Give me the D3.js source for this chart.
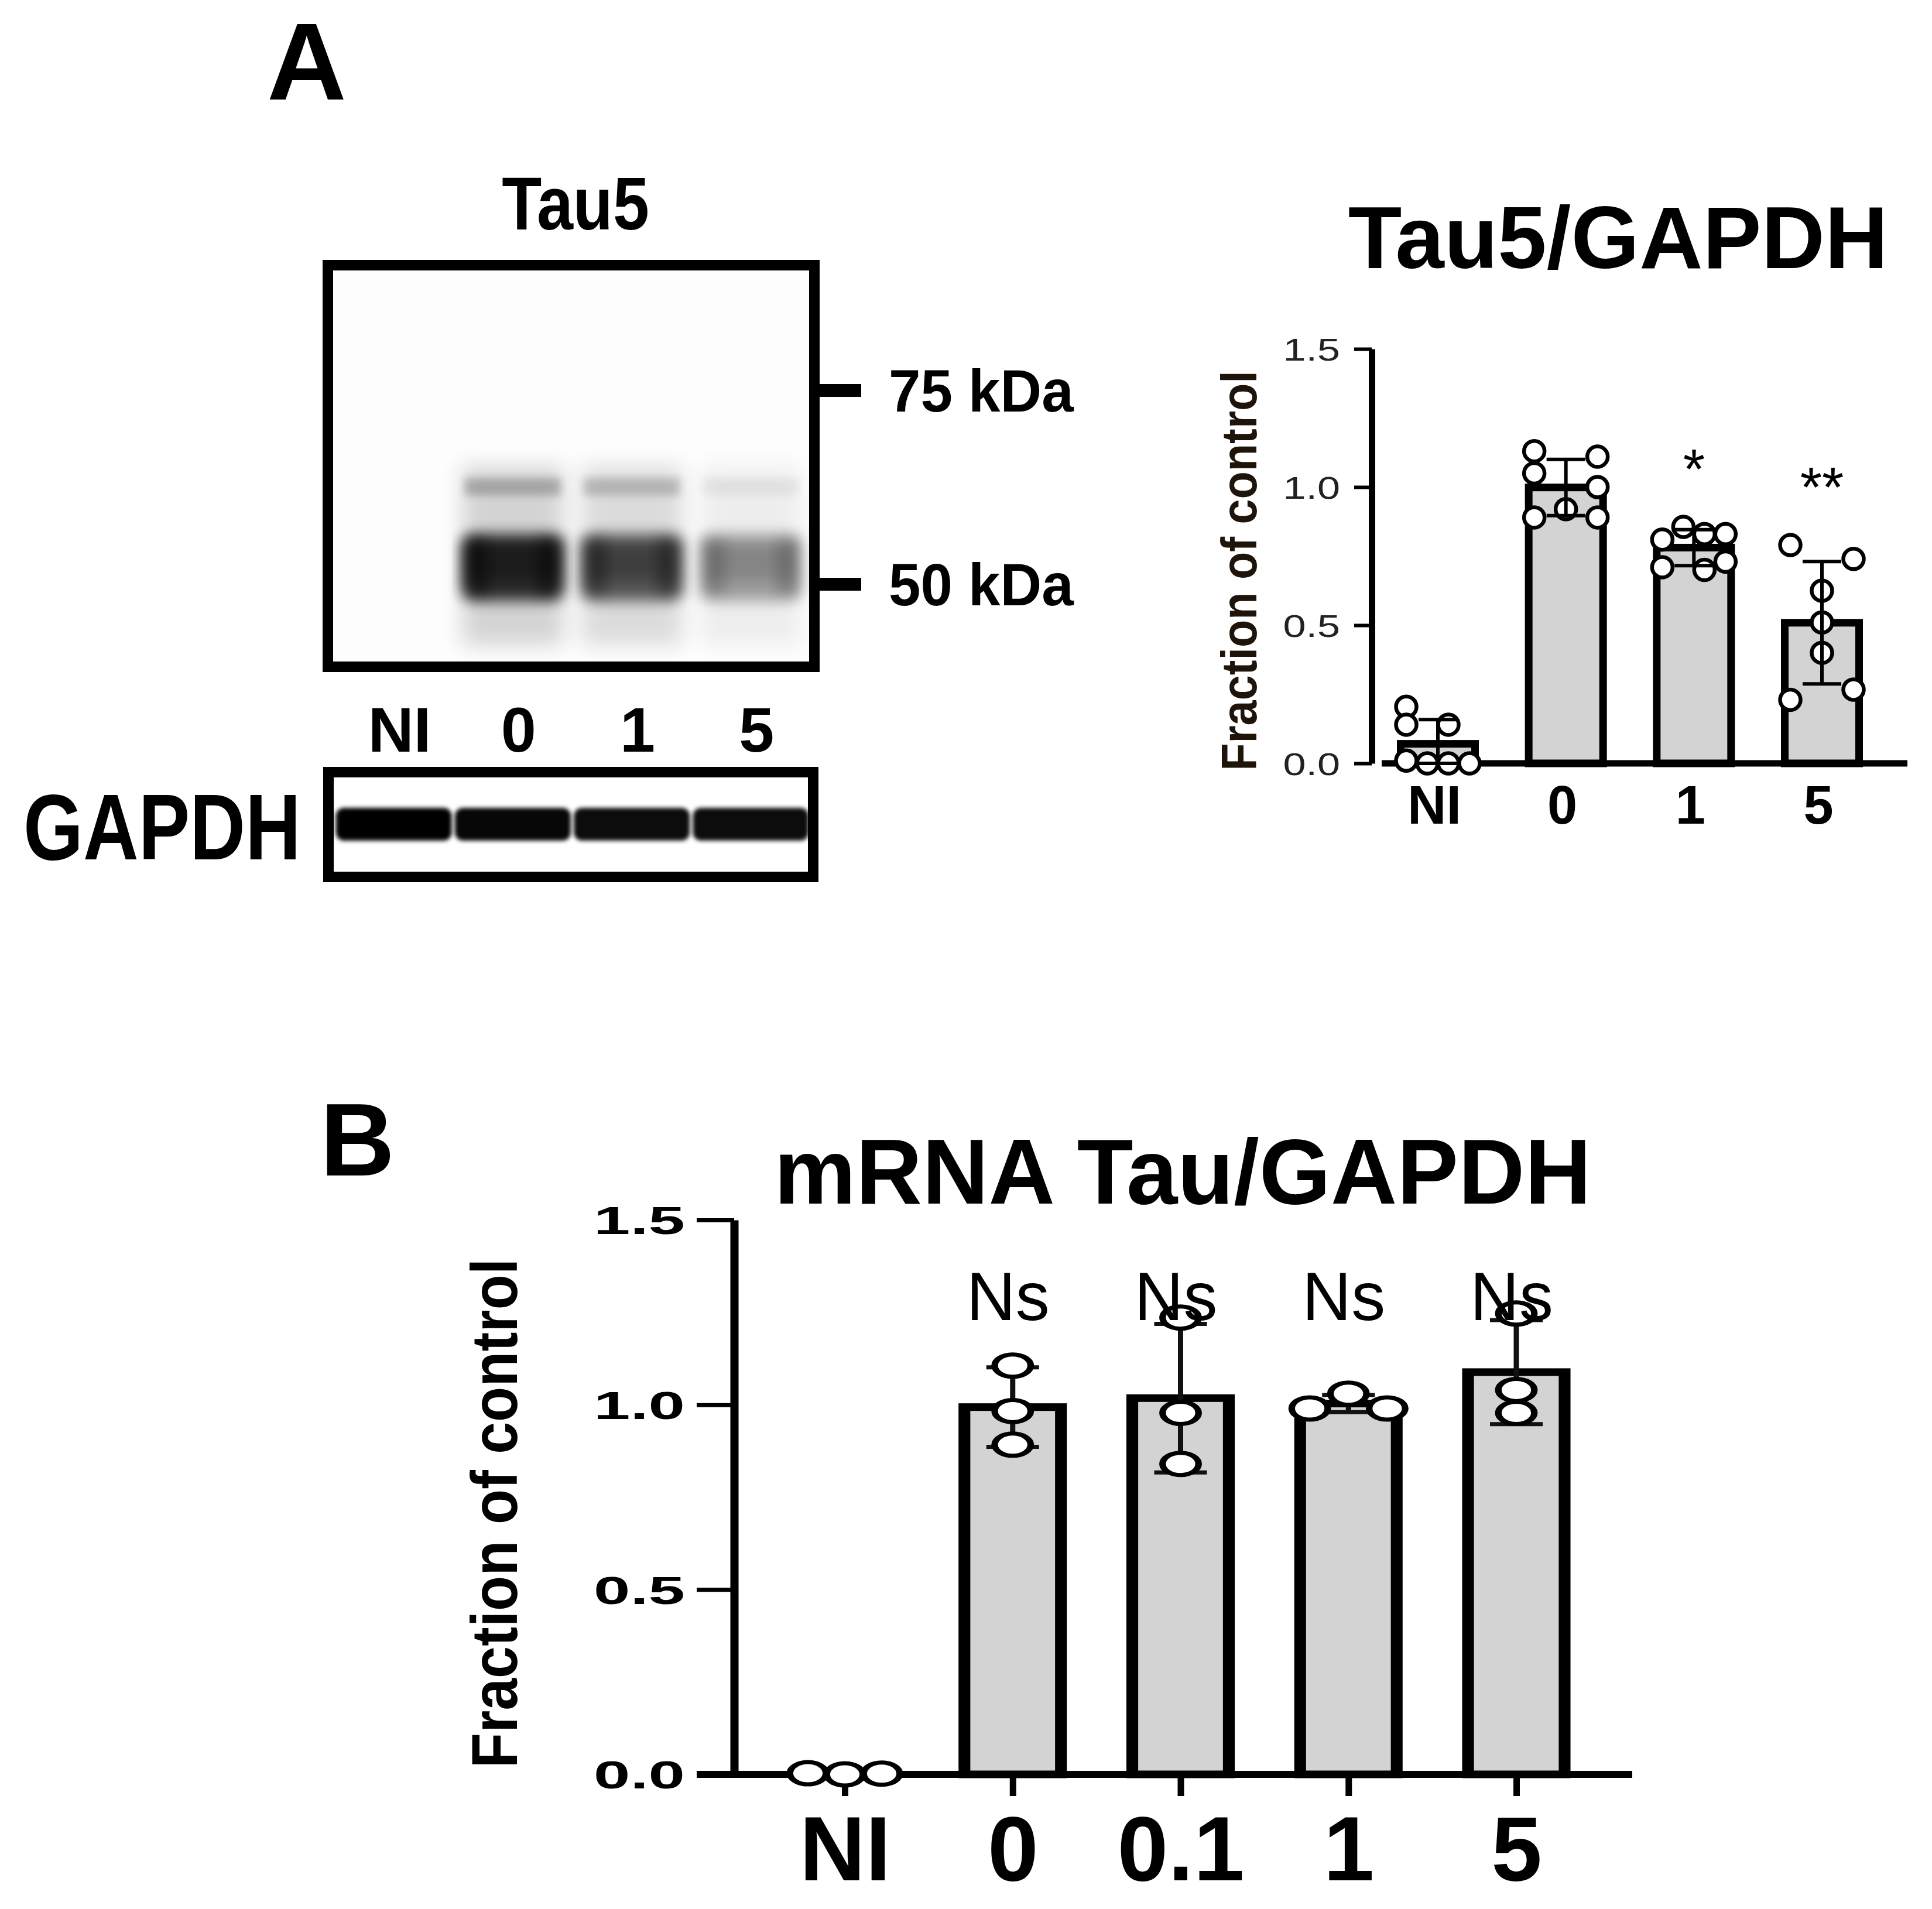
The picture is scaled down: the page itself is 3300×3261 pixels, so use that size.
<!DOCTYPE html>
<html>
<head>
<meta charset="utf-8">
<title>Tau5 / GAPDH</title>
<script src="https://cdn.jsdelivr.net/npm/d3@7"></script>
<style>
  html, body { margin: 0; padding: 0; background: #ffffff; }
  svg { display: block; }
</style>
</head>
<body>
<script>
// ================= DATA =================
// Panel A - western blot
const blotLanes     = ["NI", "0", "1", "5"];
const tau5MainBand  = [0.0, 1.0, 0.76, 0.42];   // ~52 kDa band, relative density
const tau5UpperBand = [0.0, 0.22, 0.18, 0.05];  // ~61 kDa band
const tau5Smear     = [0.0, 0.16, 0.13, 0.06];  // diffuse signal
const gapdhBand     = [1.0, 0.97, 0.95, 0.95];
const markerKDa     = [75, 50];
const markerLabels  = ["75 kDa", "50 kDa"];
const bandKDa       = [61.3, 55.5, 48.3];       // upper band, main band top, main band bottom
const smearKDa      = [64, 44.0];

// Panel A - quantification (Tau5/GAPDH)
const groupsA = ["NI", "0", "1", "5"];
const valuesA = [
  [0.205, 0.14, 0.01, 0.14, 0.0, 0.0, 0.0],
  [1.13, 1.05, 0.89, 0.92, 1.11, 1.0, 0.89],
  [0.81, 0.856, 0.83, 0.83, 0.71, 0.70, 0.73],
  [0.79, 0.74, 0.625, 0.51, 0.40, 0.23, 0.267]
];
const jitterA = [
  [-1.5, -1.5, -1.5, 0.5, -0.5, 0.5, 1.5],
  [-1.5, -1.5, -1.5, 0, 1.5, 1.5, 1.5],
  [-1.5, -0.5, 0.5, 1.5, -1.5, 0.5, 1.5],
  [-1.5, 1.5, 0, 0, 0, -1.5, 1.5]
];
const signifA = ["", "", "*", "**"];
const yTicksA = [0, 0.5, 1.0, 1.5];

// Panel B - mRNA Tau/GAPDH
const groupsB = ["NI", "0", "0.1", "1", "5"];
const valuesB = [
  [0.003, 0.0, 0.002],
  [1.106, 0.983, 0.892],
  [1.236, 0.978, 0.840],
  [0.99, 1.03, 0.99],
  [1.247, 1.04, 0.978]
];
const jitterB = [[-1, 0, 1], [0, 0, 0], [0, 0, 0], [-1.05, 0, 1.05], [0, 0, 0]];
const signifB = ["", "Ns", "Ns", "Ns", "Ns"];
const yTicksB = [0, 0.5, 1.0, 1.5];

// ================= SETUP =================
const W = 3300, H = 3261;
const FONT = "'Liberation Sans', Arial, Helvetica, sans-serif";
const BAR_FILL = "#d3d3d3";

const svg = d3.select("body").append("svg")
  .attr("width", W).attr("height", H).attr("viewBox", `0 0 ${W} ${H}`);
svg.append("rect").attr("width", W).attr("height", H).attr("fill", "#fff");
const defs = svg.append("defs");

function blurFilter(id, sd) {
  defs.append("filter").attr("id", id)
    .attr("x", "-40%").attr("y", "-150%").attr("width", "180%").attr("height", "400%")
    .append("feGaussianBlur").attr("stdDeviation", sd);
}
blurFilter("bBand", 12);
blurFilter("bSoft", 18);
blurFilter("bThin", 7);
blurFilter("bG", 3.5);

function text(g, str, x, y, size, o = {}) {
  let tr = `translate(${x},${y})`;
  if (o.rot) tr += ` rotate(${o.rot})`;
  if (o.sx && o.sx !== 1) tr += ` scale(${o.sx},1)`;
  return g.append("text").attr("transform", tr)
    .attr("font-family", FONT).attr("font-size", size)
    .attr("font-weight", o.weight || "bold")
    .attr("text-anchor", o.anchor || "start")
    .attr("fill", o.fill || "#000").text(str);
}
const stats = vals => ({ mean: d3.mean(vals), sd: d3.deviation(vals) || 0, max: d3.max(vals) });

// ================= PANEL A : BLOT =================
const gBlot = svg.append("g");
text(gBlot, "A", 456, 170, 188);
text(gBlot, "Tau5", 983, 392, 128, { anchor: "middle", sx: 0.87 });

const inner = { x0: 571, x1: 1384, y0: 462, y1: 1130 };
const lane = d3.scaleBand().domain(blotLanes).range([inner.x0, inner.x1])
  .paddingInner(0.15).paddingOuter(0.075);
const mw = d3.scaleLog().domain(markerKDa).range([667, 998]);

defs.append("clipPath").attr("id", "clipTau").append("rect")
  .attr("x", inner.x0).attr("y", inner.y0)
  .attr("width", inner.x1 - inner.x0).attr("height", inner.y1 - inner.y0);
const tauG = gBlot.append("g").attr("clip-path", "url(#clipTau)");
tauG.append("rect").attr("x", inner.x0).attr("y", inner.y0)
  .attr("width", inner.x1 - inner.x0).attr("height", inner.y1 - inner.y0).attr("fill", "#fdfdfd");

const bw = lane.bandwidth();
blotLanes.forEach((l, i) => {
  const x = lane(l);
  // smear
  tauG.append("rect").attr("x", x).attr("width", bw)
    .attr("y", mw(smearKDa[0])).attr("height", mw(smearKDa[1]) - mw(smearKDa[0]))
    .attr("fill", "#000").attr("opacity", tau5Smear[i]).attr("filter", "url(#bSoft)");
  // upper band
  tauG.append("rect").attr("x", x + 4).attr("width", bw - 8)
    .attr("y", mw(bandKDa[0]) - 15).attr("height", 30)
    .attr("fill", "#000").attr("opacity", tau5UpperBand[i]).attr("filter", "url(#bThin)");
  // main band
  const yTop = mw(bandKDa[1]), yBot = mw(bandKDa[2]);
  tauG.append("rect").attr("x", x + 2).attr("width", bw - 4)
    .attr("y", yTop).attr("height", yBot - yTop).attr("rx", 16)
    .attr("fill", "#000").attr("opacity", tau5MainBand[i] * 0.8).attr("filter", "url(#bBand)");
  // dense core
  tauG.append("rect").attr("x", x + 8).attr("width", bw - 16)
    .attr("y", yTop + 16).attr("height", (yBot - yTop) * 0.55)
    .attr("fill", "#000").attr("opacity", tau5MainBand[i] * 0.35).attr("filter", "url(#bBand)");
  // darker edges of the band
  [0, 0.76].forEach(f => {
    tauG.append("rect").attr("x", x + f * bw).attr("width", bw * 0.24)
      .attr("y", yTop + 8).attr("height", yBot - yTop - 20)
      .attr("fill", "#000").attr("opacity", tau5MainBand[i] * 0.45).attr("filter", "url(#bBand)");
  });
});
gBlot.append("rect").attr("x", 560).attr("y", 453).attr("width", 831).attr("height", 686)
  .attr("fill", "none").attr("stroke", "#000").attr("stroke-width", 18);

// markers
markerKDa.forEach((k, i) => {
  gBlot.append("rect").attr("x", 1398).attr("y", mw(k) - 11).attr("width", 73).attr("height", 22).attr("fill", "#000");
  text(gBlot, markerLabels[i], 1518, mw(k) + 36, 102, { sx: 0.96 });
});

// lane labels
blotLanes.forEach(l => text(gBlot, l, lane(l) + bw / 2 + 10, 1284, 108, { anchor: "middle" }));

// GAPDH blot
defs.append("clipPath").attr("id", "clipG").append("rect")
  .attr("x", 570).attr("y", 1328).attr("width", 810).attr("height", 161);
const gG = gBlot.append("g").attr("clip-path", "url(#clipG)");
blotLanes.forEach((l, i) => {
  const cx = lane(l) + bw / 2;
  gG.append("rect").attr("x", cx - 99).attr("width", 198)
    .attr("y", 1380).attr("height", 56).attr("rx", 14)
    .attr("fill", "#000").attr("opacity", gapdhBand[i]).attr("filter", "url(#bG)");
});
gBlot.append("rect").attr("x", 561).attr("y", 1319).attr("width", 828).attr("height", 179)
  .attr("fill", "none").attr("stroke", "#000").attr("stroke-width", 18);
text(gBlot, "GAPDH", 40, 1468, 160, { sx: 0.82 });

// ================= PANEL A : BAR CHART =================
const gA = svg.append("g");
const yA = d3.scaleLinear().domain([0, 1.5]).range([1304, 596]);
const xA = d3.scalePoint().domain(groupsA).range([2456, 3112]);
const AX_A = 2343;

text(gA, "Tau5/GAPDH", 2764, 458, 150, { anchor: "middle" });
text(gA, "Fraction of control", 2146, 975, 86, { rot: -90, anchor: "middle", sx: 0.9, fill: "#1e140a" });

const axA = gA.append("g").attr("transform", `translate(${AX_A},0)`)
  .call(d3.axisLeft(yA).tickValues(yTicksA).tickSize(30).tickSizeOuter(0).tickPadding(24).tickFormat(d3.format(".1f")));
axA.select(".domain").attr("stroke", "#000").attr("stroke-width", 11);
axA.selectAll(".tick line").attr("stroke", "#000").attr("stroke-width", 6);
axA.selectAll(".tick text").each(function () {
  const t = d3.select(this); const x = +t.attr("x");
  t.attr("x", 0).attr("dy", "0.36em").attr("transform", `translate(${x},0) scale(1.3,1)`)
    .attr("font-family", FONT).attr("font-size", 54).attr("fill", "#222");
});

gA.append("line").attr("x1", 2360).attr("x2", 3258).attr("y1", yA(0)).attr("y2", yA(0))
  .attr("stroke", "#000").attr("stroke-width", 11);

const statsA = valuesA.map(stats);
// bars
gA.selectAll("rect.barA").data(groupsA).join("rect").attr("class", "barA")
  .attr("x", d => xA(d) - 63.5).attr("width", 127)
  .attr("y", (d, i) => yA(statsA[i].mean)).attr("height", (d, i) => yA(0) - yA(statsA[i].mean))
  .attr("fill", BAR_FILL).attr("stroke", "#000").attr("stroke-width", 13);
// points
groupsA.forEach((g, i) => {
  gA.selectAll(null).data(valuesA[i]).join("circle")
    .attr("cx", (v, j) => xA(g) + jitterA[i][j] * 36).attr("cy", v => yA(v)).attr("r", 17.5)
    .attr("fill", "#fff").attr("stroke", "#000").attr("stroke-width", 6.5);
});
// error bars
groupsA.forEach((g, i) => {
  const s = statsA[i], lo = Math.max(0, s.mean - s.sd), hi = s.mean + s.sd;
  const eg = gA.append("g").attr("stroke", "#000").attr("stroke-width", 6);
  eg.append("line").attr("x1", xA(g)).attr("x2", xA(g)).attr("y1", yA(lo)).attr("y2", yA(hi));
  [lo, hi].forEach(v => eg.append("line").attr("x1", xA(g) - 33).attr("x2", xA(g) + 33).attr("y1", yA(v)).attr("y2", yA(v)));
});
// significance
groupsA.forEach((g, i) => {
  if (signifA[i]) text(gA, signifA[i], xA(g), yA(statsA[i].max) - 66, 96, { anchor: "middle", weight: "normal" });
});
// x labels
groupsA.forEach(g => text(gA, g, xA(g) - 6, 1407, 92, { anchor: "middle" }));

// ================= PANEL B =================
const gB = svg.append("g");
const yB = d3.scaleLinear().domain([0, 1.5]).range([3031, 2084]);
const xB = d3.scalePoint().domain(groupsB).range([1443, 2590]);
const AX_B = 1254;
const STRETCH = 1.55;

text(gB, "B", 547, 2008, 176);
text(gB, "mRNA Tau/GAPDH", 2020, 2056, 157, { anchor: "middle" });
text(gB, "Fraction of control", 883, 2585, 112, { rot: -90, anchor: "middle", sx: 0.88 });

const axB = gB.append("g").attr("transform", `translate(${AX_B},0)`)
  .call(d3.axisLeft(yB).tickValues(yTicksB).tickSize(64).tickSizeOuter(0).tickPadding(20).tickFormat(d3.format(".1f")));
axB.select(".domain").attr("stroke", "#000").attr("stroke-width", 14);
axB.selectAll(".tick line").attr("stroke", "#000").attr("stroke-width", 7);
axB.selectAll(".tick text").each(function () {
  const t = d3.select(this); const x = +t.attr("x");
  t.attr("x", 0).attr("dy", "0.36em").attr("transform", `translate(${x},0) scale(1.7,1)`)
    .attr("font-family", FONT).attr("font-size", 66).attr("font-weight", "bold").attr("fill", "#000");
});

gB.append("line").attr("x1", 1190).attr("x2", 2788).attr("y1", yB(0)).attr("y2", yB(0))
  .attr("stroke", "#000").attr("stroke-width", 12);
const axBx = gB.append("g").attr("transform", `translate(0,${yB(0)})`)
  .call(d3.axisBottom(xB).tickSize(37).tickSizeOuter(0));
axBx.select(".domain").remove();
axBx.selectAll(".tick line").attr("stroke", "#000").attr("stroke-width", 11);
axBx.selectAll(".tick text").attr("y", 181).attr("dy", null)
  .attr("font-family", FONT).attr("font-size", 156).attr("font-weight", "bold").attr("fill", "#000");

const statsB = valuesB.map(stats);
// bars (graph is horizontally stretched, so vertical strokes are thicker)
groupsB.forEach((g, i) => {
  const s = statsB[i];
  if (s.mean <= 0.01) return;
  gB.append("g").attr("transform", `translate(${xB(g)},0) scale(${STRETCH},1)`)
    .append("rect").attr("x", -53.2).attr("width", 106.4)
    .attr("y", yB(s.mean)).attr("height", yB(0) - yB(s.mean))
    .attr("fill", BAR_FILL).attr("stroke", "#000").attr("stroke-width", 13);
});
// error bars (drawn beneath the points)
groupsB.forEach((g, i) => {
  const s = statsB[i];
  if (s.sd <= 0.005) return;
  const lo = Math.max(0, s.mean - s.sd), hi = s.mean + s.sd;
  const eg = gB.append("g").attr("stroke", "#111");
  eg.append("line").attr("x1", xB(g)).attr("x2", xB(g)).attr("y1", yB(lo)).attr("y2", yB(hi)).attr("stroke-width", 9);
  [lo, hi].forEach(v => eg.append("line").attr("x1", xB(g) - 45).attr("x2", xB(g) + 45)
    .attr("y1", yB(v)).attr("y2", yB(v)).attr("stroke-width", 7));
});
// points
groupsB.forEach((g, i) => {
  gB.selectAll(null).data(valuesB[i]).join("g")
    .attr("transform", (v, j) => `translate(${xB(g) + jitterB[i][j] * 63},${yB(v)}) scale(1.62,1)`)
    .append("circle").attr("r", 19).attr("fill", "#fff").attr("stroke", "#000").attr("stroke-width", 7);
});
// significance
groupsB.forEach((g, i) => {
  if (signifB[i]) text(gB, signifB[i], xB(g) - 8, 2255, 116, { anchor: "middle", weight: "normal" });
});
</script>
</body>
</html>
